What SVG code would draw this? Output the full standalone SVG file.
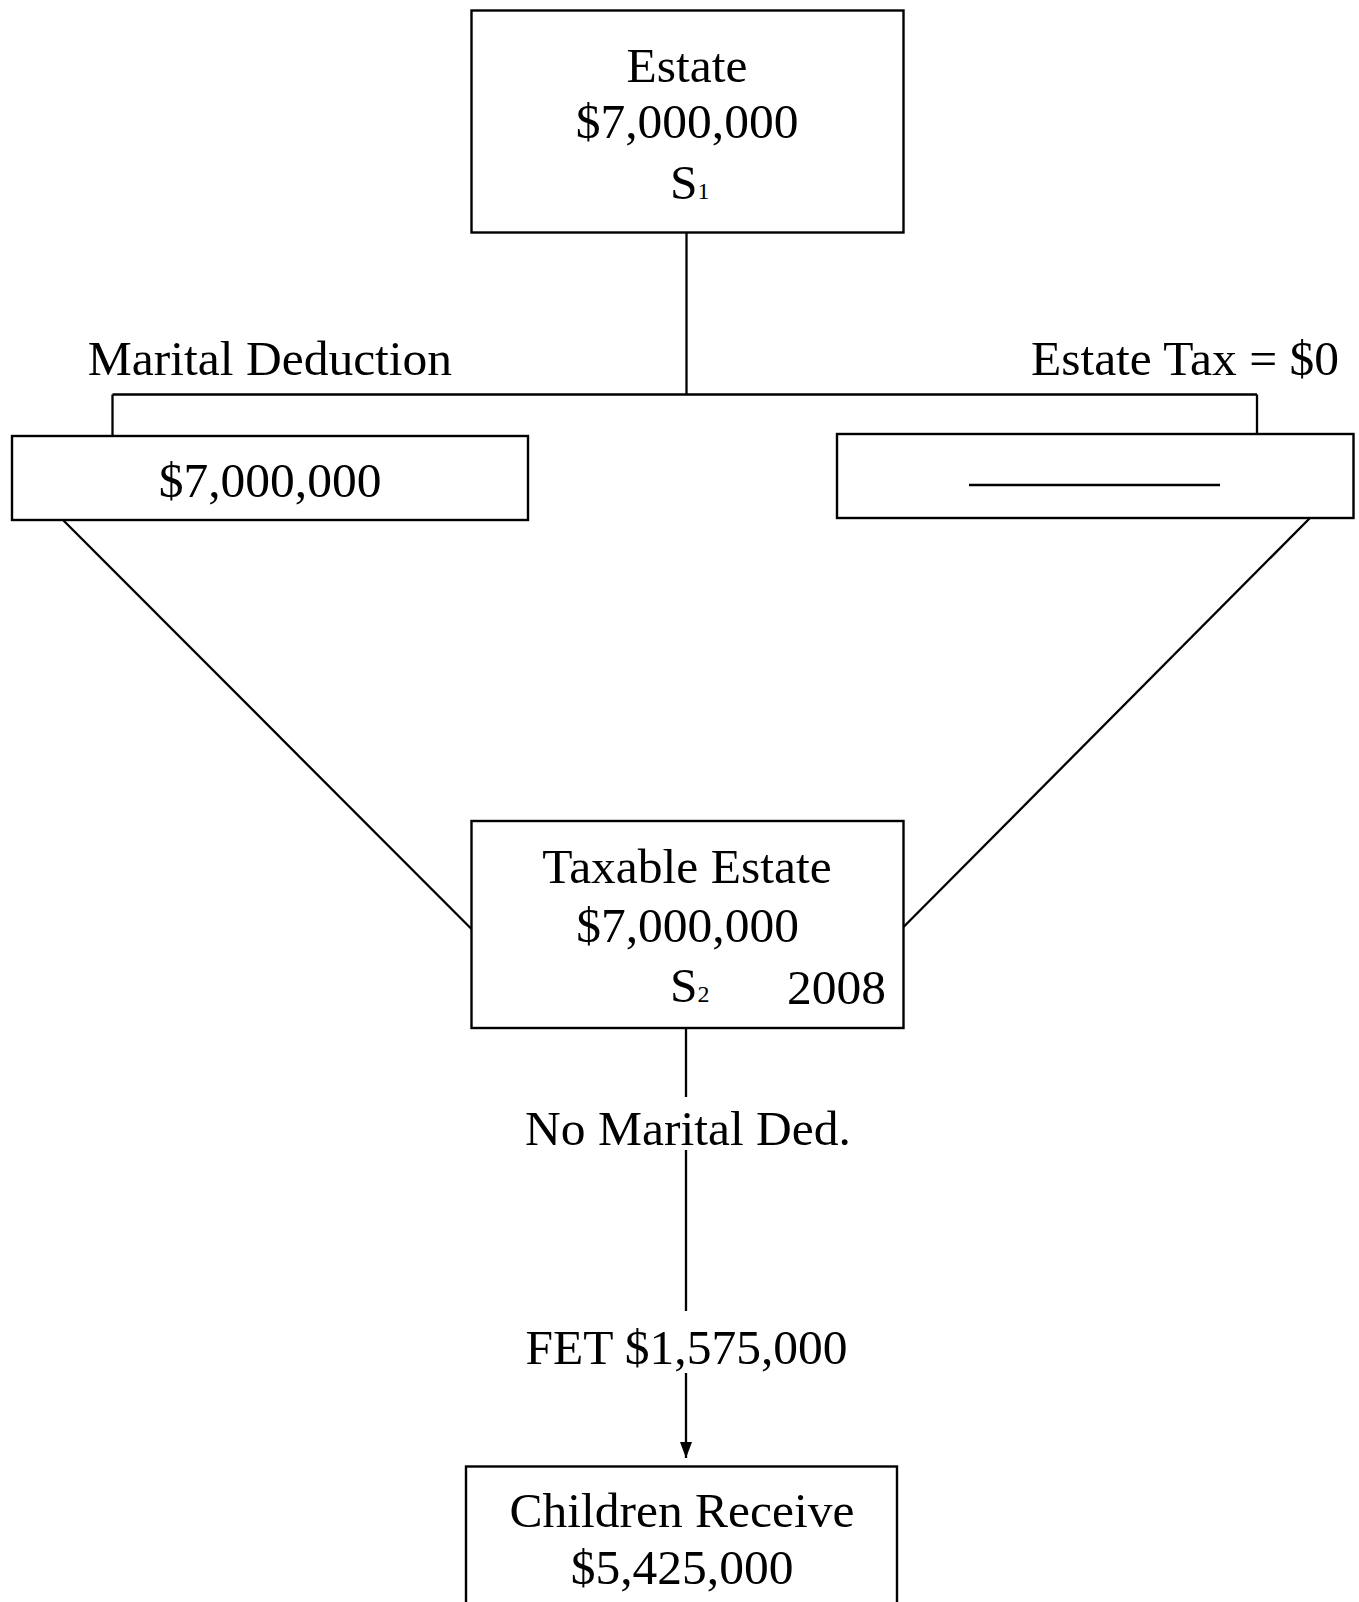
<svg xmlns="http://www.w3.org/2000/svg" width="1359" height="1602" viewBox="0 0 1359 1602">
  <style>
    .box { fill: #ffffff; stroke: #000000; stroke-width: 2.4; }
    .wire { fill: none; stroke: #000000; stroke-width: 2.3; }
    .lbl { font-family: "Liberation Serif", "Times New Roman", serif; font-size: 49.5px; fill: #000000; }
    .mid { text-anchor: middle; }
    .end { text-anchor: end; }
    .sub { font-size: 24px; }
  </style>
  <defs>
    <marker id="arrow" markerUnits="userSpaceOnUse" markerWidth="16" markerHeight="12" refX="16" refY="6" orient="auto">
      <path d="M0,0 L16,6 L0,12 Z" fill="#000000"/>
    </marker>
  </defs>

  <rect width="1359" height="1602" fill="#ffffff"/>

  <!-- connectors -->
  <g id="connectors">
    <line class="wire" x1="686.5" y1="232.5" x2="686.5" y2="394.5"/>
    <line class="wire" x1="112.5" y1="394.5" x2="1257" y2="394.5"/>
    <line class="wire" x1="112.5" y1="394.5" x2="112.5" y2="436"/>
    <line class="wire" x1="1257" y1="394.5" x2="1257" y2="434"/>
    <line class="wire" x1="63" y1="520" x2="471.5" y2="929"/>
    <line class="wire" x1="1310" y1="518" x2="903.5" y2="927"/>
    <line class="wire" x1="686" y1="1028" x2="686" y2="1097"/>
    <line class="wire" x1="686" y1="1150" x2="686" y2="1311"/>
    <line class="wire" x1="686" y1="1373" x2="686" y2="1458" marker-end="url(#arrow)"/>
  </g>

  <!-- estate of first spouse -->
  <g id="estate">
    <rect class="box" x="471.5" y="10.5" width="432" height="222"/>
    <text class="lbl mid" x="687" y="82">Estate</text>
    <text class="lbl mid" x="687" y="138">$7,000,000</text>
    <text class="lbl" x="670" y="199">S<tspan class="sub">1</tspan></text>
  </g>

  <!-- marital deduction branch -->
  <g id="marital-deduction">
    <text class="lbl mid" x="270" y="375">Marital Deduction</text>
    <rect class="box" x="12" y="436" width="516" height="84"/>
    <text class="lbl mid" x="270" y="497">$7,000,000</text>
  </g>

  <!-- estate tax branch -->
  <g id="estate-tax">
    <text class="lbl end" x="1339" y="375">Estate Tax = $0</text>
    <rect class="box" x="837" y="434" width="516.5" height="84"/>
    <line class="wire" x1="969" y1="485" x2="1220" y2="485"/>
  </g>

  <!-- taxable estate of second spouse -->
  <g id="taxable-estate">
    <rect class="box" x="471.5" y="821" width="432" height="207"/>
    <text class="lbl mid" x="687" y="883">Taxable Estate</text>
    <text class="lbl mid" x="687.5" y="942">$7,000,000</text>
    <text class="lbl" x="670" y="1002">S<tspan class="sub">2</tspan></text>
    <text class="lbl end" x="886" y="1004">2008</text>
  </g>

  <!-- labels along the vertical flow -->
  <g id="no-marital-ded">
    <text class="lbl mid" x="688" y="1145">No Marital Ded.</text>
  </g>
  <g id="fet">
    <text class="lbl mid" x="686.5" y="1364">FET $1,575,000</text>
  </g>

  <!-- children -->
  <g id="children">
    <rect class="box" x="466" y="1466.5" width="431" height="200"/>
    <text class="lbl mid" x="682" y="1527">Children Receive</text>
    <text class="lbl mid" x="682" y="1584">$5,425,000</text>
  </g>
</svg>
